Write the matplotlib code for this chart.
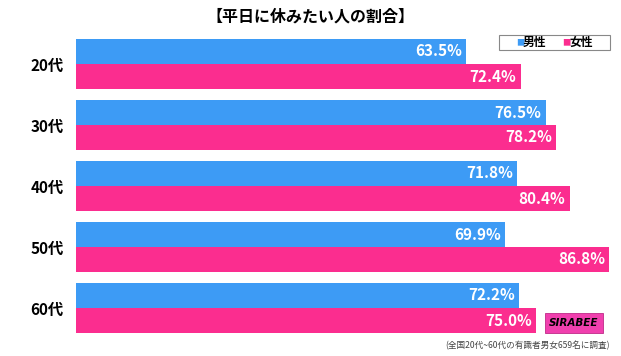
import matplotlib
matplotlib.use('Agg')
import matplotlib.pyplot as plt
from matplotlib.patches import Rectangle

plt.rcParams['font.family'] = ['Noto Sans CJK JP', 'DejaVu Sans']

# data
ages = ['20代', '30代', '40代', '50代', '60代']
male = [63.5, 76.5, 71.8, 69.9, 72.2]
female = [72.4, 78.2, 80.4, 86.8, 75.0]

BLUE = '#3d9bf5'
PINK = '#fb2d8f'

fig = plt.figure(figsize=(6.21, 3.56), dpi=100)
ax = fig.add_axes([76 / 621, 1 - 338 / 356, (612 - 76) / 621, 302 / 356])

h = 25 / 61
pos = list(range(len(ages)))
ax.barh([p - h / 2 for p in pos], male, height=h, color=BLUE)
ax.barh([p + h / 2 for p in pos], female, height=h, color=PINK)

# value labels inside the bar ends
for p, m, f in zip(pos, male, female):
    ax.annotate(f'{m:.1f}%', (m, p - h / 2), xytext=(-3, 0), textcoords='offset points',
                ha='right', va='center', color='white', fontsize=11, fontweight='bold')
    ax.annotate(f'{f:.1f}%', (f, p + h / 2), xytext=(-3, 0), textcoords='offset points',
                ha='right', va='center', color='white', fontsize=11, fontweight='bold')

ax.set_xlim(0, 87.3)
ax.set_ylim(4 + 30 / 61, -28 / 61)
ax.set_yticks(pos)
ax.set_yticklabels(ages, fontsize=11, fontweight='bold')
ax.tick_params(axis='y', length=0, pad=9)
ax.set_xticks([])
for s in ax.spines.values():
    s.set_visible(False)

fig.text(0.5, 1 - 17 / 356, '【平日に休みたい人の割合】', ha='center', va='center',
         fontsize=11.5, fontweight='bold')

# legend box
fig.patches.append(Rectangle((499 / 621, 1 - 50 / 356), 111 / 621, 15 / 356,
                             transform=fig.transFigure, fill=False,
                             edgecolor='#888888', linewidth=0.8))
fig.text(520 / 621, 1 - 42.5 / 356, '■', color=BLUE, fontsize=6, ha='center', va='center')
fig.text(523 / 621, 1 - 42.5 / 356, '男性', fontsize=8.5, fontweight='bold', ha='left', va='center')
fig.text(566 / 621, 1 - 42.5 / 356, '■', color=PINK, fontsize=6, ha='center', va='center')
fig.text(570 / 621, 1 - 42.5 / 356, '女性', fontsize=8.5, fontweight='bold', ha='left', va='center')

# logo
fig.text(574 / 621, 1 - 323 / 356, 'SIRABEE', fontsize=7.5, fontweight='bold',
         style='italic', family='DejaVu Sans', ha='center', va='center',
         bbox=dict(boxstyle='square,pad=0.45', facecolor='#f03fae', edgecolor='#c02a88', linewidth=0.6))

fig.text(610 / 621, 1 - 346 / 356, '(全国20代~60代の有識者男女659名に調査)', fontsize=6.2,
         color='#444444', ha='right', va='center')

fig.savefig('out.png', dpi=100)
